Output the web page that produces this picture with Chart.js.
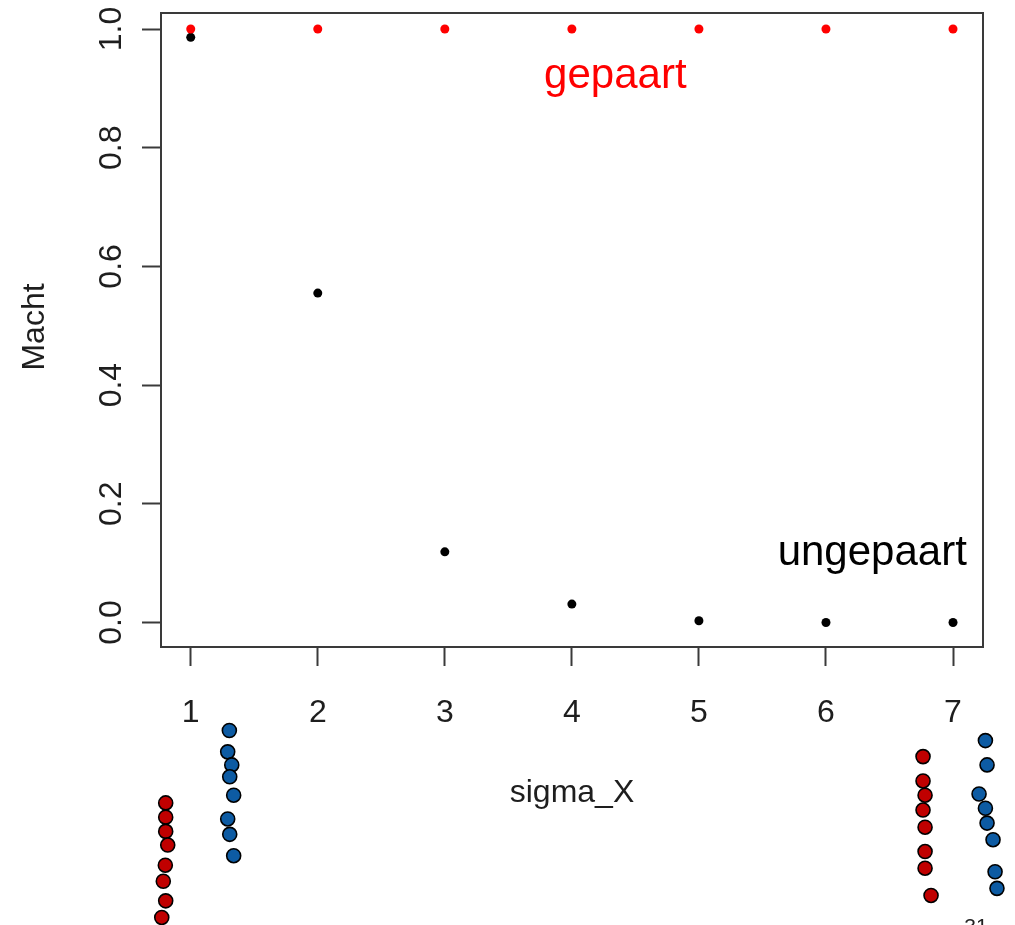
<!DOCTYPE html>
<html>
<head>
<meta charset="utf-8">
<script src="https://cdn.jsdelivr.net/npm/chart.js@4"></script>
<style>
    html, body { margin: 0; padding: 0; background: #ffffff; }
    #quadro { position: relative; width: 1015px; height: 925px; }
    #quadro canvas { position: absolute; left: 0; top: 0; display: block; }
</style>
</head>
<body>
<div id="quadro">
    <canvas id="grafico" width="1015" height="925"></canvas>
    <canvas id="deko" width="1015" height="925"></canvas>
</div>
<script>
    // sigma_X values and power (Macht)
    var sigmaX = [1, 2, 3, 4, 5, 6, 7];
    var machtGepaart = [1.0, 1.0, 1.0, 1.0, 1.0, 1.0, 1.0];
    var machtUngepaart = [0.986, 0.555, 0.119, 0.031, 0.003, 0.0, 0.0];

    var xTicks = [1, 2, 3, 4, 5, 6, 7];
    var yTicks = [0.0, 0.2, 0.4, 0.6, 0.8, 1.0];
    var yTickLabels = ['0.0', '0.2', '0.4', '0.6', '0.8', '1.0'];

    // slide decoration: columns of red / blue dots under the axis (in plot units)
    var deko1RotX = [0.803, 0.803, 0.803, 0.819, 0.800, 0.784, 0.803, 0.772];
    var deko1RotY = [-0.304, -0.328, -0.352, -0.375, -0.409, -0.436, -0.469, -0.497];
    var deko1BlauX = [1.304, 1.291, 1.323, 1.307, 1.338, 1.291, 1.307, 1.338];
    var deko1BlauY = [-0.182, -0.218, -0.240, -0.260, -0.291, -0.331, -0.357, -0.393];
    var deko7RotX = [6.764, 6.764, 6.780, 6.764, 6.780, 6.780, 6.780, 6.827];
    var deko7RotY = [-0.226, -0.267, -0.291, -0.316, -0.345, -0.386, -0.414, -0.460];
    var deko7BlauX = [7.255, 7.268, 7.205, 7.255, 7.268, 7.315, 7.331, 7.346];
    var deko7BlauY = [-0.199, -0.240, -0.289, -0.313, -0.338, -0.366, -0.420, -0.448];

    var FONTE = '"Liberation Sans", Arial, sans-serif';
    var COR_TEXTO = '#1e1e1e';
    var COR_LINHA = '#3a3a3a';

    var pontos = function (xs, ys) {
        return xs.map(function (x, i) { return { x: x, y: ys[i] }; });
    };

    var dekoDataset = function (xs, ys, cor) {
        return {
            data: pontos(xs, ys),
            backgroundColor: cor,
            borderColor: '#000000',
            borderWidth: 1.6,
            pointRadius: 7
        };
    };

    // box, tick labels, axis titles, in-plot texts
    var textoPlugin = {
        id: 'textoPlugin',
        afterDraw: function (chart) {
            var ctx = chart.ctx;
            var area = chart.chartArea;
            var sx = chart.scales.x;
            var sy = chart.scales.y;

            ctx.save();
            ctx.strokeStyle = COR_LINHA;
            ctx.lineWidth = 2;
            ctx.strokeRect(area.left, area.top, area.right - area.left, area.bottom - area.top);

            ctx.fillStyle = COR_TEXTO;
            ctx.font = '32px ' + FONTE;
            ctx.textAlign = 'center';
            ctx.textBaseline = 'alphabetic';

            xTicks.forEach(function (v) {
                ctx.fillText(String(v), sx.getPixelForValue(v), 722);
            });

            yTicks.forEach(function (v, i) {
                ctx.save();
                ctx.translate(121, sy.getPixelForValue(v));
                ctx.rotate(-Math.PI / 2);
                ctx.fillText(yTickLabels[i], 0, 0);
                ctx.restore();
            });

            ctx.fillText('sigma_X', (area.left + area.right) / 2, 802);

            ctx.save();
            ctx.translate(44, 327);
            ctx.rotate(-Math.PI / 2);
            ctx.fillText('Macht', 0, 0);
            ctx.restore();

            ctx.font = '42px ' + FONTE;
            ctx.fillStyle = '#ff0000';
            ctx.fillText('gepaart', sx.getPixelForValue(4.342), sy.getPixelForValue(0.9006));
            ctx.fillStyle = '#000000';
            ctx.fillText('ungepaart', sx.getPixelForValue(6.364), sy.getPixelForValue(0.0969));

            // slide number, cut off by the bottom edge
            ctx.font = '21px ' + FONTE;
            ctx.fillStyle = '#222222';
            ctx.fillText('31', 976, 933);
            ctx.restore();
        }
    };

    var eixoComTicks = function (min, max, ticks, ajuste) {
        return {
            type: 'linear',
            min: min,
            max: max,
            afterBuildTicks: function (scale) {
                scale.ticks = ticks.map(function (v) { return { value: v }; });
            },
            afterFit: ajuste,
            ticks: { display: false },
            border: { display: false },
            grid: {
                drawOnChartArea: false,
                drawTicks: true,
                tickLength: 19,
                tickWidth: 2,
                tickColor: COR_LINHA
            }
        };
    };

    var configGrafico = {
        type: 'scatter',
        data: {
            datasets: [
                {
                    label: 'gepaart',
                    data: pontos(sigmaX, machtGepaart),
                    backgroundColor: '#ff0000',
                    borderWidth: 0,
                    pointRadius: 4.5
                },
                {
                    label: 'ungepaart',
                    data: pontos(sigmaX, machtUngepaart),
                    backgroundColor: '#000000',
                    borderWidth: 0,
                    pointRadius: 4.5
                }
            ]
        },
        options: {
            responsive: false,
            animation: false,
            layout: { autoPadding: false, padding: { top: 13, right: 32, left: 0, bottom: 0 } },
            plugins: {
                legend: { display: false },
                tooltip: { enabled: false }
            },
            scales: {
                x: eixoComTicks(0.766, 7.236, xTicks, function (scale) { scale.height = 278; }),
                y: eixoComTicks(-0.0413, 1.027, yTicks, function (scale) { scale.width = 161; })
            }
        },
        plugins: [textoPlugin]
    };

    var _chart = new Chart(document.getElementById('grafico').getContext('2d'), configGrafico);

    // overlay covering the whole canvas, with the same units as the plot,
    // so the decoration dots below the axis can be drawn by Chart.js too
    var sx = _chart.scales.x;
    var sy = _chart.scales.y;
    var _deko = new Chart(document.getElementById('deko').getContext('2d'), {
        type: 'scatter',
        data: {
            datasets: [
                dekoDataset(deko1RotX, deko1RotY, '#c00000'),
                dekoDataset(deko1BlauX, deko1BlauY, '#0d5ba3'),
                dekoDataset(deko7RotX, deko7RotY, '#c00000'),
                dekoDataset(deko7BlauX, deko7BlauY, '#0d5ba3')
            ]
        },
        options: {
            responsive: false,
            animation: false,
            layout: { autoPadding: false, padding: 0 },
            plugins: {
                legend: { display: false },
                tooltip: { enabled: false }
            },
            scales: {
                x: { type: 'linear', display: false, min: sx.getValueForPixel(0), max: sx.getValueForPixel(1015) },
                y: { type: 'linear', display: false, min: sy.getValueForPixel(925), max: sy.getValueForPixel(0) }
            }
        }
    });
</script>
</body>
</html>
